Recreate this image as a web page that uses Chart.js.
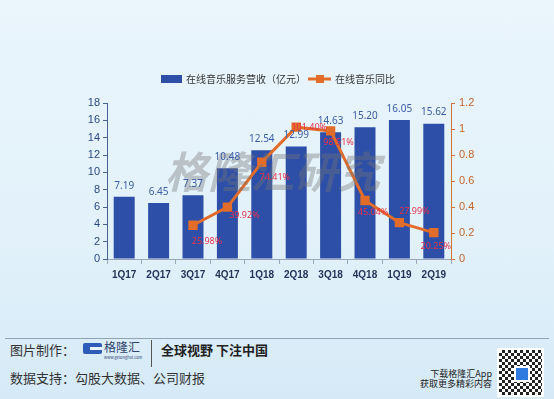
<!DOCTYPE html>
<html>
<head>
<meta charset="utf-8">
<script src="https://cdn.jsdelivr.net/npm/chart.js@4"></script>
<style>
  html, body { margin: 0; padding: 0; }
  body {
    width: 554px; height: 399px; overflow: hidden; position: relative;
    background: linear-gradient(180deg, #eaf5fc 0%, #e2f1fa 60%, #d5eaf7 100%);
    font-family: "Noto Sans CJK SC", "Noto Sans", sans-serif;
  }
  #wrap { position: absolute; left: 0; top: 0; width: 554px; height: 290px; }
  .foot { position: absolute; color: #333; white-space: nowrap; line-height: 1; }
  #rule { position: absolute; left: 5px; top: 338px; width: 544px; height: 1px; background: #8ea3b3; }
  #gicon { position: absolute; left: 83px; top: 343px; width: 19px; height: 11px; background: #2f5cb8; border-radius: 2px; }
  #gicon:after { content: ""; position: absolute; left: 7px; top: 4px; width: 12px; height: 3px; background: #e7f3fa; }
  #divider { position: absolute; left: 151px; top: 340px; width: 1px; height: 27px; background: #555; }
  #qr {
    position: absolute; left: 497px; top: 348px; width: 47px; height: 49px; background-color: #fff;
    background-image: repeating-conic-gradient(#222 0 25%, #fff 0 50%);
    background-size: 6px 6px; border: 2px solid #fff; box-sizing: border-box;
  }
  #qr:after { content: ""; position: absolute; left: 15px; top: 16px; width: 12px; height: 12px; background: #2f7be0; border: 2px solid #fff; }
</style>
</head>
<body>
<div id="wrap"><canvas id="chart"></canvas></div>

<div id="rule"></div>
<div class="foot" style="left:10px; top:343px; font-size:13px;">图片制作：</div>
<div id="gicon"></div>
<div class="foot" style="left:104px; top:341px; font-size:12px; color:#33446e;">格隆汇</div>
<div class="foot" style="left:104px; top:355px; font-size:4px; color:#33446e;">www.gelonghui.com</div>
<div id="divider"></div>
<div class="foot" style="left:161px; top:343px; font-size:13px; font-weight:bold; color:#222;">全球视野 下注中国</div>
<div class="foot" style="left:10px; top:371px; font-size:13px;">数据支持：勾股大数据、公司财报</div>
<div class="foot" style="right:62px; top:369px; font-size:9px; color:#222;">下载格隆汇App</div>
<div class="foot" style="right:62px; top:379px; font-size:9px; color:#222;">获取更多精彩内容</div>
<div id="qr"></div>

<script>
    // ==================== DATA ====================
    const quarters = ['1Q17', '2Q17', '3Q17', '4Q17', '1Q18', '2Q18', '3Q18', '4Q18', '1Q19', '2Q19'];
    const revenue = [7.19, 6.45, 7.37, 10.48, 12.54, 12.99, 14.63, 15.20, 16.05, 15.62];
    const yoy = [null, null, 0.2598, 0.3992, 0.7441, 1.0140, 0.9851, 0.4504, 0.2799, 0.2025];
    const leftTicks = [0, 2, 4, 6, 8, 10, 12, 14, 16, 18];
    const rightTicks = [0, 0.2, 0.4, 0.6, 0.8, 1, 1.2];

    const BAR_BLUE = '#2d4fa7';
    const LINE_ORANGE = '#e26c2a';

    // where each % label sits relative to its point
    const pctOffsets = [[0, 0], [0, 0], [14, 16], [17, 8], [13, 15], [13, 0], [8, 12], [8, 12], [15, -11], [2, 14]];

    // Legend, watermark and value labels
    const decorPlugin = {
        id: 'decor',
        afterDatasetsDraw(chart) {
            const ctx = chart.ctx;
            ctx.save();

            // watermark
            ctx.font = 'italic bold 43px "Noto Sans CJK SC"';
            ctx.fillStyle = 'rgba(115,115,115,0.38)';
            ctx.textAlign = 'left';
            ctx.textBaseline = 'middle';
            ctx.fillText('格隆汇研究', 165, 172);

            // bar values
            const bars = chart.getDatasetMeta(0).data;
            ctx.font = '10px "Noto Sans", sans-serif';
            ctx.fillStyle = '#3b5ca6';
            ctx.textAlign = 'center';
            bars.forEach((b, i) => {
                ctx.fillText(revenue[i].toFixed(2), b.x, b.y - 11);
            });

            // yoy values
            const pts = chart.getDatasetMeta(1).data;
            ctx.font = '9px "Noto Sans", sans-serif';
            ctx.fillStyle = '#e5334b';
            pts.forEach((p, i) => {
                if (yoy[i] == null) return;
                const o = pctOffsets[i];
                ctx.fillText((yoy[i] * 100).toFixed(2) + '%', p.x + o[0], p.y + o[1]);
            });

            // legend
            ctx.font = '10px "Noto Sans CJK SC"';
            ctx.textAlign = 'left';
            ctx.fillStyle = BAR_BLUE;
            ctx.fillRect(161, 75, 21, 8);
            ctx.fillStyle = '#333';
            ctx.fillText(chart.data.datasets[0].label, 186, 79);
            ctx.strokeStyle = LINE_ORANGE;
            ctx.lineWidth = 3;
            ctx.beginPath(); ctx.moveTo(308, 79); ctx.lineTo(331, 79); ctx.stroke();
            ctx.fillStyle = LINE_ORANGE;
            ctx.fillRect(316, 75, 8, 8);
            ctx.fillStyle = '#333';
            ctx.fillText(chart.data.datasets[1].label, 335, 79);

            ctx.restore();
        }
    };

    new Chart(document.getElementById('chart'), {
        type: 'bar',
        data: {
            labels: quarters,
            datasets: [
                {
                    type: 'bar', label: '在线音乐服务营收（亿元）', data: revenue, yAxisID: 'y',
                    backgroundColor: BAR_BLUE, categoryPercentage: 1, barPercentage: 0.61, order: 2
                },
                {
                    type: 'line', label: '在线音乐同比', data: yoy, yAxisID: 'y1',
                    borderColor: LINE_ORANGE, borderWidth: 3, backgroundColor: LINE_ORANGE,
                    pointStyle: 'rect', pointRadius: 4.5, pointHoverRadius: 4.5, tension: 0, order: 1
                }
            ]
        },
        options: {
            responsive: true, maintainAspectRatio: false, animation: false,
            layout: { padding: { top: 103, bottom: 0, left: 0, right: 0 } },
            plugins: { legend: { display: false }, tooltip: { enabled: false } },
            scales: {
                x: {
                    grid: { drawOnChartArea: false, color: '#9aa8b8', tickLength: 5 },
                    border: { color: '#9aa8b8' },
                    ticks: { color: '#24335a', font: { size: 10, weight: 'bold' }, padding: 5 },
                    afterFit(s) { s.height = 31; }
                },
                y: {
                    position: 'left', min: 0, max: 18,
                    afterBuildTicks(s) { s.ticks = leftTicks.map(v => ({ value: v })); },
                    grid: { drawOnChartArea: false, color: '#4a6290', tickLength: 4 },
                    border: { color: '#4a6290' },
                    ticks: { color: '#2b4a86', font: { size: 11 }, padding: 3 },
                    afterFit(s) { s.width = 107; }
                },
                y1: {
                    position: 'right', min: 0, max: 1.2,
                    afterBuildTicks(s) { s.ticks = rightTicks.map(v => ({ value: v })); },
                    grid: { drawOnChartArea: false, color: '#d0743a', tickLength: 4 },
                    border: { color: '#d0743a' },
                    ticks: { color: '#c8672a', font: { size: 11 }, padding: 4, callback: v => String(Math.round(v * 10) / 10) },
                    afterFit(s) { s.width = 103; }
                }
            }
        },
        plugins: [decorPlugin]
    });
</script>
</body>
</html>
